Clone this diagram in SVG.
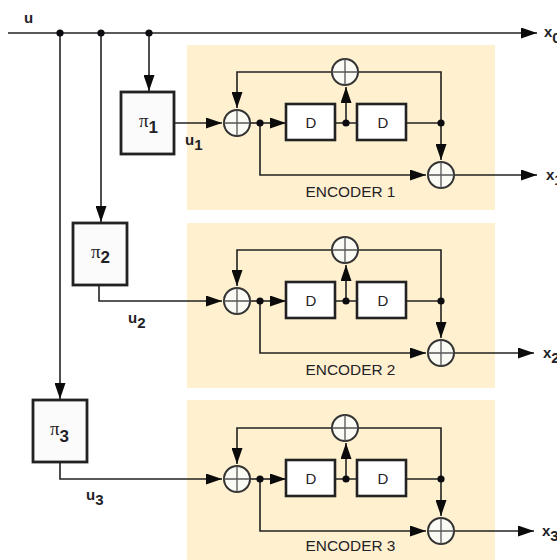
<svg xmlns="http://www.w3.org/2000/svg" width="557" height="560" viewBox="0 0 557 560">
<style>
text{font-family:"Liberation Sans",Arial,sans-serif;fill:#1f2227}
.lab{font-size:15px;font-weight:bold}
.sub{font-size:17px;font-weight:bold}
.low{font-size:15px;font-weight:bold}
.pi{font-family:"Liberation Serif","DejaVu Serif",serif;font-size:19px;font-weight:normal}
.d{font-size:15px;text-anchor:middle}
.enc{font-size:15.4px;text-anchor:middle}
.bg{fill:#fff0cf}
.box{fill:#fff;stroke:#222;stroke-width:2.6}
.perm{fill:#fbfbfb;stroke:#222;stroke-width:2.8}
.xor circle{fill:#fbfbf6;stroke:#333;stroke-width:2}
.xor path{fill:none;stroke:#555;stroke-width:1.3}
.c{fill:none;stroke:#222;stroke-width:1.6}
.a{marker-end:url(#ah)}
.dot{fill:#0b0b10}
</style>
<defs>
<marker id="ah" markerUnits="userSpaceOnUse" viewBox="0 0 16 11" refX="16" refY="5.5" markerWidth="16" markerHeight="11" orient="auto"><path d="M0 0L16 5.5L0 11Z" fill="#0b0b0b"/></marker>
<g id="xorSym" class="xor"><circle r="13"/><path d="M-13 0H13M0-13V13"/></g>
</defs>
<g id="encoder-1-bg"><rect class="bg" x="187" y="45" width="308" height="165"/><text class="enc" x="350.500" y="197">ENCODER 1</text></g>
<g id="encoder-2-bg"><rect class="bg" x="187" y="223" width="308" height="165"/><text class="enc" x="350.500" y="375">ENCODER 2</text></g>
<g id="encoder-3-bg"><rect class="bg" x="187" y="400" width="308" height="160"/><text class="enc" x="350.500" y="551">ENCODER 3</text></g>
<g id="connectors">
<path class="c a" d="M8 33H537"/>
<path class="c a" d="M149 33V91"/>
<path class="c a" d="M101 33V222"/>
<path class="c a" d="M60 33V399"/>
<path class="c a" d="M174 123H222"/>
<path class="c a" d="M99 285V301H222"/>
<path class="c a" d="M60 462V479H222"/>

<path class="c a" d="M441 123V72H237V108"/>
<path class="c" d="M250 123H260"/>
<path class="c a" d="M260 123H286"/>
<path class="c" d="M335 123H357M406 123H441"/>
<path class="c a" d="M346 123V87"/>
<path class="c a" d="M441 123V160"/>
<path class="c a" d="M260 123V175H426"/>
<path class="c a" d="M454 175H537"/>

<path class="c a" d="M441 301V250H237V286"/>
<path class="c" d="M250 301H260"/>
<path class="c a" d="M260 301H286"/>
<path class="c" d="M335 301H357M406 301H441"/>
<path class="c a" d="M346 301V265"/>
<path class="c a" d="M441 301V338"/>
<path class="c a" d="M260 301V353H426"/>
<path class="c a" d="M454 353H534"/>

<path class="c a" d="M441 479V428H237V464"/>
<path class="c" d="M250 479H260"/>
<path class="c a" d="M260 479H286"/>
<path class="c" d="M335 479H357M406 479H441"/>
<path class="c a" d="M346 479V443"/>
<path class="c a" d="M441 479V516"/>
<path class="c a" d="M260 479V531H426"/>
<path class="c a" d="M454 531H534"/>

<g class="dot">
<circle cx="60" cy="33" r="3.6"/><circle cx="101" cy="33" r="3.6"/><circle cx="149" cy="33" r="3.6"/>
<circle cx="260" cy="123" r="3.6"/><circle cx="346" cy="123" r="3.6"/><circle cx="441" cy="123" r="3.6"/>
<circle cx="260" cy="301" r="3.6"/><circle cx="346" cy="301" r="3.6"/><circle cx="441" cy="301" r="3.6"/>
<circle cx="260" cy="479" r="3.6"/><circle cx="346" cy="479" r="3.6"/><circle cx="441" cy="479" r="3.6"/>
</g>
</g>
<g id="pi1"><rect class="perm" x="121" y="92" width="53" height="62"/><text x="139" y="127"><tspan class="pi">π</tspan><tspan class="sub" dy="6">1</tspan></text></g>
<g id="pi2"><rect class="perm" x="73" y="223" width="54" height="62"/><text x="91" y="258"><tspan class="pi">π</tspan><tspan class="sub" dy="5">2</tspan></text></g>
<g id="pi3"><rect class="perm" x="33" y="400" width="54" height="62"/><text x="50" y="435"><tspan class="pi">π</tspan><tspan class="sub" dy="7">3</tspan></text></g>

<g id="xor1-in"><use href="#xorSym" x="237" y="123"/></g>
<g id="xor1-fb"><use href="#xorSym" x="345" y="72"/></g>
<g id="xor1-out"><use href="#xorSym" x="441" y="175"/></g>
<g id="d1a"><rect class="box" x="286" y="104" width="49" height="36"/><text class="d" x="311" y="128">D</text></g>
<g id="d1b"><rect class="box" x="357" y="104" width="49" height="36"/><text class="d" x="383" y="128">D</text></g>

<g id="xor2-in"><use href="#xorSym" x="237" y="301"/></g>
<g id="xor2-fb"><use href="#xorSym" x="345" y="250"/></g>
<g id="xor2-out"><use href="#xorSym" x="441" y="353"/></g>
<g id="d2a"><rect class="box" x="286" y="282" width="49" height="36"/><text class="d" x="311" y="306">D</text></g>
<g id="d2b"><rect class="box" x="357" y="282" width="49" height="36"/><text class="d" x="383" y="306">D</text></g>

<g id="xor3-in"><use href="#xorSym" x="237" y="479"/></g>
<g id="xor3-fb"><use href="#xorSym" x="345" y="428"/></g>
<g id="xor3-out"><use href="#xorSym" x="441" y="531"/></g>
<g id="d3a"><rect class="box" x="286" y="460" width="49" height="36"/><text class="d" x="311" y="484">D</text></g>
<g id="d3b"><rect class="box" x="357" y="460" width="49" height="36"/><text class="d" x="383" y="484">D</text></g>

<g id="labels">
<text class="lab" x="24" y="23">u</text>
<text class="lab" x="185" y="145">u<tspan class="low" dy="5">1</tspan></text>
<text class="lab" x="128" y="323">u<tspan class="low" dy="5">2</tspan></text>
<text class="lab" x="86" y="500">u<tspan class="low" dy="5">3</tspan></text>
<text class="lab" x="544" y="37">x<tspan class="low" dy="6">0</tspan></text>
<text class="lab" x="546" y="180">x<tspan class="low" dy="5">1</tspan></text>
<text class="lab" x="543" y="358">x<tspan class="low" dy="5">2</tspan></text>
<text class="lab" x="542" y="536">x<tspan class="low" dy="5">3</tspan></text>
</g>
</svg>
